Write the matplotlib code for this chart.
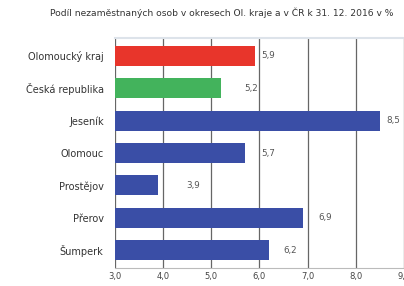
import matplotlib.pyplot as plt
from matplotlib.ticker import FuncFormatter

categories = ['Olomoucký kraj', 'Česká republika', 'Jeseník', 'Olomouc',
              'Prostějov', 'Přerov', 'Šumperk']
values = [5.9, 5.2, 8.5, 5.7, 3.9, 6.9, 6.2]
colors = ['#e8352b', '#43b35c', '#3a4ea6', '#3a4ea6', '#3a4ea6', '#3a4ea6', '#3a4ea6']
title = 'Podíl nezaměstnaných osob v okresech Ol. kraje a v ČR k 31. 12. 2016 v %'

fig = plt.figure(figsize=(4.04, 2.86), dpi=100)
ax = fig.add_axes([0.284, 0.063, 0.716, 0.804])

y = list(range(len(categories)))
base = 3.0
ax.barh(y, [v - base for v in values], left=base, height=0.62, color=colors, zorder=3)

# value labels, offsets in points roughly as in the original
label_off = [5, 17, 5, 12, 20, 11, 10]
for yi, v, off in zip(y, values, label_off):
    ax.annotate(f'{v:.1f}'.replace('.', ','), (v, yi), xytext=(off, 0),
                textcoords='offset points', va='center', ha='left',
                fontsize=6.3, color='#555555')

ax.set_xlim(3, 9)
ax.set_ylim(len(categories) - 0.45, -0.55)
ax.set_xticks([3, 4, 5, 6, 7, 8, 9])
ax.xaxis.set_major_formatter(FuncFormatter(lambda x, p: f'{x:.1f}'.replace('.', ',')))
ax.set_yticks(y)
ax.set_yticklabels(categories)
ax.tick_params(axis='y', length=0, pad=8, labelsize=7, labelcolor='#333333')
ax.tick_params(axis='x', length=0, pad=3, labelsize=6, labelcolor='#444444')

ax.grid(axis='x', color='#666666', linewidth=0.9, zorder=0)
for s in ['left', 'right']:
    ax.spines[s].set_visible(False)
ax.spines['top'].set_color('#dde3ea')
ax.spines['top'].set_linewidth(1.5)
ax.spines['bottom'].set_color('#bbbbbb')

fig.text(0.548, 0.955, title, ha='center', va='center', fontsize=6.6, color='#333333')

fig.savefig('out.png', dpi=100)
